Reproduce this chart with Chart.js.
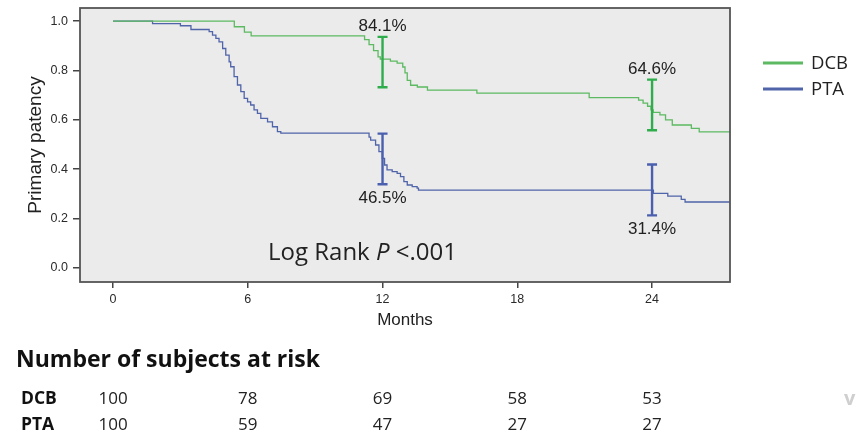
<!DOCTYPE html>
<html><head><meta charset="utf-8">
<script src="https://cdn.jsdelivr.net/npm/chart.js@4.4.1/dist/chart.umd.min.js"></script>
<style>html,body{margin:0;padding:0;background:#fff;}canvas{display:block;}</style>
</head><body>
<canvas id="c" width="862" height="434"></canvas>
<script>
// ---- data ----
const seriesNames = ['DCB', 'PTA'];
const dcbMonths   = [0, 5.4, 5.85, 6.15, 11.2, 11.4, 11.6, 11.8, 11.9, 12.35, 12.65, 12.9, 13.0, 13.1, 13.25, 13.55, 14.0, 16.2, 21.2, 23.4, 23.6, 23.8, 23.95, 24.05, 24.35, 24.6, 24.9, 25.75, 26.1, 27.5];
const dcbSurvival = [1.0, 0.977, 0.955, 0.94, 0.925, 0.905, 0.88, 0.855, 0.846, 0.838, 0.83, 0.814, 0.79, 0.76, 0.74, 0.733, 0.72, 0.708, 0.69, 0.68, 0.668, 0.655, 0.64, 0.63, 0.62, 0.6, 0.579, 0.565, 0.551, 0.551];
const ptaMonths   = [0, 1.76, 3.0, 3.47, 4.28, 4.43, 4.58, 4.72, 4.88, 5.02, 5.17, 5.24, 5.39, 5.54, 5.69, 5.84, 5.99, 6.13, 6.28, 6.43, 6.58, 6.88, 7.1, 7.32, 7.47, 11.4, 11.47, 11.69, 11.84, 11.99, 12.09, 12.2, 12.43, 12.65, 12.8, 12.95, 13.1, 13.32, 13.54, 13.6, 24.06, 24.7, 25.3, 25.47, 27.5];
const ptaSurvival = [1.0, 0.99, 0.981, 0.966, 0.957, 0.943, 0.93, 0.916, 0.889, 0.862, 0.835, 0.815, 0.775, 0.741, 0.714, 0.687, 0.673, 0.66, 0.64, 0.626, 0.606, 0.592, 0.572, 0.552, 0.546, 0.53, 0.518, 0.498, 0.471, 0.444, 0.417, 0.397, 0.39, 0.383, 0.37, 0.35, 0.336, 0.329, 0.323, 0.315, 0.302, 0.291, 0.278, 0.267, 0.267];
const ciMonths = [12, 24];
const dcbLower = [0.732, 0.558];
const dcbUpper = [0.936, 0.763];
const ptaLower = [0.339, 0.213];
const ptaUpper = [0.544, 0.419];
const dcbRateLabels = ['84.1%', '64.6%'];
const ptaRateLabels = ['46.5%', '31.4%'];
const xTickValues = [0, 6, 12, 18, 24];
const yTickValues = [0, 0.2, 0.4, 0.6, 0.8, 1.0];
const riskMonths = [0, 6, 12, 18, 24];
const dcbAtRisk = [100, 78, 69, 58, 53];
const ptaAtRisk = [100, 59, 47, 27, 27];

// ---- styles ----
const DCB_LINE = '#5dba62', DCB_CI = '#2fad4c';
const PTA_LINE = '#5064a9', PTA_CI = '#4a5fae';
const ARIAL = '"Liberation Sans", Arial, sans-serif';
const OPEN = '"Open Sans", "Noto Sans", sans-serif';

const toPts = (xs, ys) => xs.map((m, i) => ({x: m, y: ys[i]}));

const decor = {
  id: 'decor',
  beforeDraw(chart) {
    const {ctx} = chart;
    ctx.save();
    ctx.fillStyle = '#cfcfcf'; ctx.font = 'bold 20px ' + OPEN; ctx.textAlign = 'left'; ctx.textBaseline = 'alphabetic';
    ctx.fillText('v', 844, 405);
    ctx.restore();
  },
  beforeDatasetsDraw(chart) {
    const {ctx, chartArea: a} = chart;
    ctx.save();
    ctx.fillStyle = '#ebebeb';
    ctx.fillRect(a.left, a.top, a.right - a.left, a.bottom - a.top);
    ctx.restore();
  },
  afterDatasetsDraw(chart) {
    const {ctx, chartArea: a} = chart;
    const xs = chart.scales.x, ys = chart.scales.y;
    ctx.save();
    // error bars
    const drawCI = (lo, hi, color) => {
      ctx.strokeStyle = color; ctx.lineWidth = 2.4;
      ciMonths.forEach((m, i) => {
        const x = xs.getPixelForValue(m), y1 = ys.getPixelForValue(lo[i]), y2 = ys.getPixelForValue(hi[i]);
        ctx.beginPath();
        ctx.moveTo(x, y1); ctx.lineTo(x, y2);
        ctx.moveTo(x - 5, y1); ctx.lineTo(x + 5, y1);
        ctx.moveTo(x - 5, y2); ctx.lineTo(x + 5, y2);
        ctx.stroke();
      });
    };
    drawCI(dcbLower, dcbUpper, DCB_CI);
    drawCI(ptaLower, ptaUpper, PTA_CI);
    // rate labels
    ctx.fillStyle = '#222'; ctx.font = '17px ' + ARIAL; ctx.textAlign = 'center'; ctx.textBaseline = 'alphabetic';
    ciMonths.forEach((m, i) => {
      const x = xs.getPixelForValue(m);
      ctx.fillText(dcbRateLabels[i], x, ys.getPixelForValue(dcbUpper[i]) - 5.5);
      ctx.fillText(ptaRateLabels[i], x, ys.getPixelForValue(ptaLower[i]) + 19);
    });
    // frame
    ctx.strokeStyle = '#555'; ctx.lineWidth = 1.8;
    ctx.strokeRect(a.left, a.top, a.right - a.left, a.bottom - a.top);
    // log rank text
    ctx.textAlign = 'left'; ctx.fillStyle = '#222';
    let lx = a.left + 188; const ly = a.bottom - 22;
    ctx.font = '24px ' + OPEN;
    ctx.fillText('Log Rank ', lx, ly); lx += ctx.measureText('Log Rank ').width;
    ctx.font = 'italic 24px ' + OPEN;
    ctx.fillText('P', lx, ly); lx += ctx.measureText('P').width;
    ctx.font = '24px ' + OPEN;
    ctx.fillText(' <.001', lx, ly);
    // legend
    const legend = [[seriesNames[0], DCB_LINE, 63], [seriesNames[1], PTA_LINE, 89]];
    legend.forEach(([name, col, y]) => {
      ctx.strokeStyle = col; ctx.lineWidth = 3;
      ctx.beginPath(); ctx.moveTo(763, y); ctx.lineTo(803, y); ctx.stroke();
      ctx.fillStyle = '#222'; ctx.font = '18.5px ' + OPEN; ctx.textBaseline = 'middle';
      ctx.fillText(name, 811, y + 1);
    });
    // at-risk table
    ctx.textBaseline = 'alphabetic'; ctx.textAlign = 'left'; ctx.fillStyle = '#111';
    ctx.font = 'bold 23px ' + OPEN;
    ctx.fillText('Number of subjects at risk', 16, 367);
    const rows = [[seriesNames[0], dcbAtRisk, 404], [seriesNames[1], ptaAtRisk, 430]];
    rows.forEach(([name, vals, y]) => {
      ctx.textAlign = 'left'; ctx.font = 'bold 17.5px ' + OPEN; ctx.fillStyle = '#111';
      ctx.fillText(name, 21, y);
      ctx.textAlign = 'center'; ctx.font = '17px ' + OPEN; ctx.fillStyle = '#222';
      riskMonths.forEach((m, i) => ctx.fillText(String(vals[i]), xs.getPixelForValue(m), y));
    });
    ctx.restore();
  }
};

new Chart(document.getElementById('c'), {
  type: 'line',
  data: {
    datasets: [
      {label: seriesNames[0], data: toPts(dcbMonths, dcbSurvival), borderColor: DCB_LINE, borderWidth: 1.3, stepped: true, pointRadius: 0, fill: false},
      {label: seriesNames[1], data: toPts(ptaMonths, ptaSurvival), borderColor: PTA_LINE, borderWidth: 1.3, stepped: true, pointRadius: 0, fill: false}
    ]
  },
  options: {
    responsive: false, animation: false, devicePixelRatio: 1,
    layout: {padding: {left: 0, top: 8, right: 132, bottom: 102}},
    plugins: {legend: {display: false}, tooltip: {enabled: false}},
    scales: {
      x: {
        type: 'linear', min: -1.47, max: 27.47,
        afterFit: s => { s.height = 50; s.paddingLeft = 0; s.paddingRight = 0; },
        afterBuildTicks: s => { s.ticks = xTickValues.map(v => ({value: v})); },
        grid: {display: true, drawOnChartArea: false, drawTicks: true, tickLength: 6, color: '#444', lineWidth: 1.5},
        border: {display: false},
        ticks: {color: '#2a2a2a', font: {family: ARIAL, size: 12.5}, padding: 4, maxRotation: 0},
        title: {display: true, text: 'Months', color: '#222', font: {family: ARIAL, size: 17}, padding: {top: 0, bottom: 1}}
      },
      y: {
        type: 'linear', min: -0.057, max: 1.053,
        afterFit: s => { s.width = 80; s.paddingTop = 0; s.paddingBottom = 0; },
        afterBuildTicks: s => { s.ticks = yTickValues.map(v => ({value: v})); },
        grid: {display: true, drawOnChartArea: false, drawTicks: true, tickLength: 7, color: '#444', lineWidth: 1.5},
        border: {display: false},
        ticks: {color: '#2a2a2a', font: {family: ARIAL, size: 12.5}, padding: 5, callback: v => v.toFixed(1)},
        title: {display: true, text: 'Primary patency', color: '#222', font: {family: ARIAL, size: 19}, padding: {top: 24, bottom: 0}}
      }
    }
  },
  plugins: [decor]
});
</script>
</body></html>
